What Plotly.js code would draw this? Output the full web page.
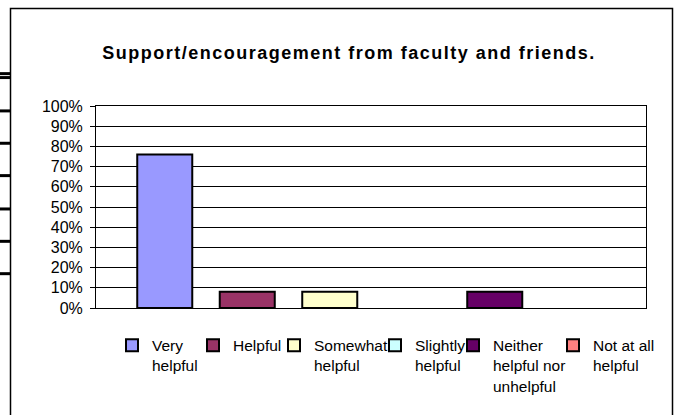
<!DOCTYPE html>
<html>
<head>
<meta charset="utf-8">
<script src="https://cdn.plot.ly/plotly-3.0.1.min.js"></script>
<style>
  html, body { margin: 0; padding: 0; background: #fff; }
  #chart { width: 680px; height: 415px; }
  #chart .gtitle { letter-spacing: 1.5px; }
</style>
</head>
<body>
<div id="chart"></div>
<script>
// ---- data ----
const chartTitle = 'Support/encouragement from faculty and friends.';
const categories = ['Very helpful', 'Helpful', 'Somewhat helpful', 'Slightly helpful', 'Neither helpful nor unhelpful', 'Not at all helpful'];
const legendLabels = ['Very<br>helpful', 'Helpful', 'Somewhat<br>helpful', 'Slightly<br>helpful', 'Neither<br>helpful nor<br>unhelpful', 'Not at all<br>helpful'];
const values = [0.76, 0.08, 0.08, 0, 0.08, 0];
const yTickVals = [0, 0.1, 0.2, 0.3, 0.4, 0.5, 0.6, 0.7, 0.8, 0.9, 1.0];
const yTickText = ['0%', '10%', '20%', '30%', '40%', '50%', '60%', '70%', '80%', '90%', '100%'];

// ---- styles / layout ----
const colors = ['#9999FF', '#993366', '#FFFFCC', '#CCFFFF', '#660066', '#FF8080'];
const W = 680, H = 415;
const M = { l: 96, r: 34, t: 106, b: 103 };
const plotW = W - M.l - M.r, plotH = H - M.t - M.b;
const px2x = p => (p - M.l) / plotW;
const py2y = p => (H - M.b - p) / plotH;
const legendTextPx = [152, 233, 314, 415, 493, 593];
const legendTopPx = 333;
const FONT = 'Liberation Sans, Arial, sans-serif';

// zero-height bars are not drawn (as in the original), but keep their legend entry
const traces = categories.map((c, i) => ({
  type: 'bar',
  name: legendLabels[i],
  x: [''],
  y: [values[i] > 0 ? values[i] : null],
  marker: { color: colors[i], line: { color: '#000', width: 2 } },
  legend: i === 0 ? 'legend' : 'legend' + (i + 1),
  hoverinfo: 'skip'
}));

const layout = {
  width: W, height: H,
  margin: M,
  paper_bgcolor: '#fff',
  plot_bgcolor: '#fff',
  font: { family: FONT, size: 16, color: '#000' },
  title: {
    text: '<b>' + chartTitle + '</b>',
    font: { family: FONT, size: 18, color: '#000' },
    xref: 'container', x: 349 / W, xanchor: 'center',
    yref: 'container', y: 1 - 53 / H, yanchor: 'middle'
  },
  barmode: 'group',
  bargap: 0.1,
  bargroupgap: 0.333,
  xaxis: {
    showticklabels: false, ticks: '', showgrid: false, zeroline: false,
    showline: true, mirror: true, linecolor: '#000', linewidth: 1,
    fixedrange: true
  },
  yaxis: {
    range: [0, 1],
    tickvals: yTickVals, ticktext: yTickText,
    ticks: 'outside', ticklen: 5, tickcolor: '#000', tickwidth: 1,
    ticklabelstandoff: 4,
    showgrid: true, gridcolor: '#000', gridwidth: 1,
    zeroline: false,
    showline: true, mirror: true, linecolor: '#000', linewidth: 1,
    tickfont: { family: FONT, size: 16, color: '#000' },
    fixedrange: true
  },
  shapes: [],
  showlegend: true
};

categories.forEach((c, i) => {
  const key = i === 0 ? 'legend' : 'legend' + (i + 1);
  layout[key] = {
    x: px2x(legendTextPx[i] - 40), xanchor: 'left',
    y: py2y(legendTopPx), yanchor: 'top',
    bgcolor: 'rgba(0,0,0,0)', borderwidth: 0,
    itemwidth: 30, valign: 'top',
    font: { family: FONT, size: 15.5, color: '#000' },
    orientation: 'v'
  };
});

// chart area border
layout.shapes.push({
  type: 'rect', xref: 'paper', yref: 'paper',
  x0: px2x(10.5), x1: px2x(672.5), y0: py2y(425), y1: py2y(6.5),
  line: { color: '#000', width: 1.5 }, fillcolor: 'rgba(0,0,0,0)', layer: 'above'
});
// spreadsheet cell-border stubs on the left
const stubPx = [73, 77, 111, 144, 177, 211, 244, 277];
stubPx.forEach(p => layout.shapes.push({
  type: 'line', xref: 'paper', yref: 'paper',
  x0: px2x(0), x1: px2x(10), y0: py2y(p), y1: py2y(p),
  line: { color: '#000', width: 3 }
}));

Plotly.newPlot('chart', traces, layout, { staticPlot: true, displayModeBar: false });
</script>
</body>
</html>
